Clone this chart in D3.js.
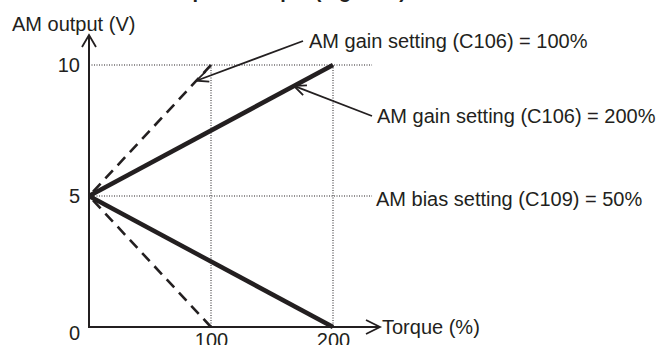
<!DOCTYPE html>
<html>
<head>
<meta charset="utf-8">
<script src="https://cdn.jsdelivr.net/npm/d3@7"></script>
<style>
  body { margin: 0; background: #fff; }
  svg { display: block; font-family: "Liberation Sans", Arial, sans-serif; }
</style>
</head>
<body>
<svg id="chart" width="661" height="345"></svg>
<script>
// data
var torqueTicks = [100, 200];
var outputTicks = [0, 5, 10];
var gain200Up = [[0, 5], [200, 10]];
var gain200Down = [[0, 5], [200, 0]];
var gain100Up = [[0, 5], [100, 10]];
var gain100Down = [[0, 5], [100, 0]];
var guideTorque = [100, 200];
var guideOutput = [5, 10];
var guideEnd = 232;
var notes = [
  {text: "AM gain setting (C106) = 100%", series: gain100Up, at: 88},
  {text: "AM gain setting (C106) = 200%", series: gain200Up, at: 168},
  {text: "AM bias setting (C109) = 50%", series: null, at: null}
];

var svg = d3.select("#chart");
var ink = "#231f20";

var x = d3.scaleLinear().domain([0, 200]).range([89, 333]);
var y = d3.scaleLinear().domain([0, 10]).range([327, 65]);

// title, mostly above the top edge in the reference
svg.append("text")
  .text("Output example (Figure 1)")
  .attr("x", 158).attr("y", -2)
  .attr("font-size", 20).attr("font-weight", "bold")
  .attr("fill", ink);

// dotted guides
var guides = svg.append("g")
  .attr("stroke", ink).attr("stroke-width", 1)
  .attr("stroke-dasharray", "1,1.5");
guideOutput.forEach(function(v){
  guides.append("line")
    .attr("x1", x(0)).attr("x2", x(guideEnd))
    .attr("y1", y(v)).attr("y2", y(v));
});
guideTorque.forEach(function(t){
  guides.append("line")
    .attr("x1", x(t)).attr("x2", x(t))
    .attr("y1", y(10)).attr("y2", y(0));
});

var line = d3.line()
  .x(function(d){ return x(d[0]); })
  .y(function(d){ return y(d[1]); });

// dashed series
[gain100Up, gain100Down].forEach(function(s){
  svg.append("path")
    .attr("d", line(s))
    .attr("fill", "none").attr("stroke", ink)
    .attr("stroke-width", 2.6)
    .attr("stroke-dasharray", "11,7")
    .attr("stroke-dashoffset", -6);
});

// solid series
[gain200Up, gain200Down].forEach(function(s){
  svg.append("path")
    .attr("d", line(s))
    .attr("fill", "none").attr("stroke", ink)
    .attr("stroke-width", 4.5);
});

// axes (labels only)
var yAxis = svg.append("g")
  .attr("transform", "translate(" + x(0) + ",0)")
  .call(d3.axisLeft(y).tickValues(outputTicks).tickSize(0).tickPadding(9));
var xAxis = svg.append("g")
  .attr("transform", "translate(0," + y(0) + ")")
  .call(d3.axisBottom(x).tickValues(torqueTicks).tickSize(0).tickPadding(6));
[yAxis, xAxis].forEach(function(a){
  a.select(".domain").remove();
  a.selectAll("text")
    .attr("font-size", 20)
    .attr("font-family", "'Liberation Sans', Arial, sans-serif")
    .attr("fill", ink);
});
yAxis.selectAll(".tick text")
  .attr("dy", function(d){ return d == 0 ? "0.6em" : "0.34em"; });

// axis lines with open arrowheads
svg.append("path")
  .attr("d", "M" + x(0) + "," + (y(0) + 1) + "V36")
  .attr("stroke", ink).attr("stroke-width", 2).attr("fill", "none");
svg.append("path")
  .attr("d", "M" + (x(0) - 7) + ",47L" + x(0) + ",35L" + (x(0) + 7) + ",47")
  .attr("stroke", ink).attr("stroke-width", 1.8).attr("fill", "none");
svg.append("path")
  .attr("d", "M" + (x(0) - 1) + "," + y(0) + "H379")
  .attr("stroke", ink).attr("stroke-width", 2).attr("fill", "none");
svg.append("path")
  .attr("d", "M366," + (y(0) - 7) + "L380," + y(0) + "L366," + (y(0) + 7))
  .attr("stroke", ink).attr("stroke-width", 1.8).attr("fill", "none");

// axis titles
svg.append("text").text("AM output (V)")
  .attr("x", 12).attr("y", 31)
  .attr("font-size", 20).attr("fill", ink);
svg.append("text").text("Torque (%)")
  .attr("x", 382).attr("y", 334)
  .attr("font-size", 20).attr("fill", ink);

// annotations
var notePos = [[309, 48, 303, 41], [377, 123, 372, 116], [376, 206, null, null]];
notes.forEach(function(n, i){
  var p = notePos[i];
  svg.append("text").text(n.text)
    .attr("x", p[0]).attr("y", p[1])
    .attr("font-size", 20).attr("fill", ink);
  if (!n.series) return;
  var a = n.series[0], b = n.series[1];
  var v = a[1] + (b[1] - a[1]) * (n.at - a[0]) / (b[0] - a[0]);
  var tx = x(n.at), ty = y(v);
  svg.append("line")
    .attr("x1", p[2]).attr("y1", p[3])
    .attr("x2", tx).attr("y2", ty)
    .attr("stroke", ink).attr("stroke-width", 1.8);
  var ang = Math.atan2(p[3] - ty, p[2] - tx);
  var len = 13, spread = 0.42;
  var a1 = [tx + len * Math.cos(ang + spread), ty + len * Math.sin(ang + spread)];
  var a2 = [tx + len * Math.cos(ang - spread), ty + len * Math.sin(ang - spread)];
  svg.append("path")
    .attr("d", "M" + a1 + "L" + tx + "," + ty + "L" + a2)
    .attr("stroke", ink).attr("stroke-width", 1.8).attr("fill", "none");
});
</script>
</body>
</html>
